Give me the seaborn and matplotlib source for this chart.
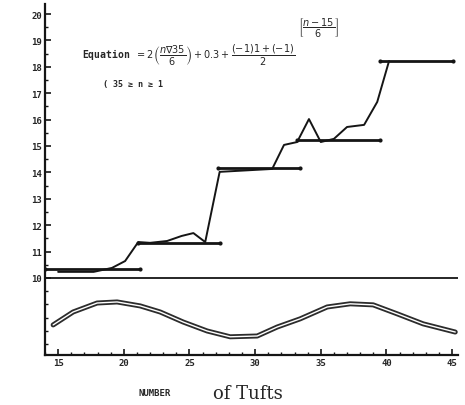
import matplotlib
matplotlib.use("Agg")
import matplotlib.pyplot as plt
import seaborn as sns
from matplotlib.ticker import MultipleLocator

sns.set_style("ticks")

# observed values (jagged line)
obs_x = [15.0, 17.7, 19.1, 20.1, 21.1, 22.0, 23.3, 24.4, 25.3, 26.2, 27.3,
         31.3, 32.2, 33.2, 34.1, 35.0, 36.0, 37.0, 38.3, 39.3, 40.2]
obs_y = [10.23, 10.23, 10.38, 10.64, 11.36, 11.33, 11.40, 11.59, 11.70, 11.36, 14.02,
         14.13, 15.04, 15.15, 16.02, 15.15, 15.27, 15.72, 15.80, 16.67, 18.22]

# fitted steps
step_start = [14.0, 21.1, 27.2, 33.2, 39.5]
step_end = [21.2, 27.3, 33.4, 39.5, 45.1]
step_level = [10.34, 11.32, 14.17, 15.22, 18.22]

# wave below the baseline
wave_x = [14.62, 16.14, 17.97, 19.49, 21.25, 22.77, 24.52, 26.35, 28.10, 30.16,
          31.68, 33.43, 35.49, 37.24, 38.99, 40.82, 42.80, 45.24]
wave_y = [8.22, 8.71, 9.05, 9.09, 8.94, 8.71, 8.33, 7.99, 7.77, 7.80,
          8.14, 8.45, 8.90, 9.02, 8.98, 8.64, 8.26, 7.95]

ink = "#151515"

fig = plt.figure(figsize=(4.65, 4.06), dpi=100)
ax = fig.add_axes([45 / 465, 1 - 356 / 406, 413 / 465, 351 / 406])

ax.axhline(10, color=ink, lw=1.3)

for x0, x1, lev in zip(step_start, step_end, step_level):
    sns.lineplot(x=[x0, x1], y=[lev, lev], ax=ax, color=ink, lw=2.0,
                 marker="o", markersize=3, markeredgewidth=0,
                 sort=False, estimator=None)

sns.lineplot(x=obs_x, y=obs_y, ax=ax, color=ink, lw=1.4, sort=False, estimator=None)

# double stroke wave
sns.lineplot(x=wave_x, y=wave_y, ax=ax, color="#2c2c2c", lw=3.6, sort=False, estimator=None)
sns.lineplot(x=wave_x, y=wave_y, ax=ax, color="white", lw=1.0, sort=False, estimator=None)

ax.set_xlim(14.0, 45.45)
ax.set_ylim(7.08, 20.38)
ax.set_xticks([15, 20, 25, 30, 35, 40, 45])
ax.set_yticks(list(range(10, 21)))
ax.xaxis.set_minor_locator(MultipleLocator(1))
ax.yaxis.set_minor_locator(MultipleLocator(0.5))
sns.despine(ax=ax)
for s in ["left", "bottom"]:
    ax.spines[s].set_linewidth(1.6)
    ax.spines[s].set_color(ink)
ax.tick_params(which="major", direction="in", length=4, width=1.2, color=ink, pad=2,
               labelsize=6.5)
ax.tick_params(which="minor", direction="in", length=2, width=1.0, color=ink)
for lab in ax.get_xticklabels() + ax.get_yticklabels():
    lab.set_fontfamily("DejaVu Sans Mono")
    lab.set_fontweight("bold")
ax.set_xlabel("")
ax.set_ylabel("")

ax.text(16.8, 18.48,
        r"Equation $= 2\left(\dfrac{n\nabla 35}{6}\right) + 0.3 + \dfrac{(-1)1 + (-1)}{2}$",
        fontsize=7, fontweight="bold", family="DejaVu Sans Mono", va="center")
ax.text(33.3, 19.5, r"$\left[\dfrac{n-15}{6}\right]$", fontsize=7, va="center")
ax.text(18.4, 17.35, "( 35 \u2265 n \u2265 1", fontsize=6, fontweight="bold",
        family="DejaVu Sans Mono", va="center")

fig.text(155 / 465, 1 - 394 / 406, "NUMBER", fontsize=6.5, fontweight="bold",
         family="DejaVu Sans Mono", ha="center", va="center")
fig.text(213 / 465, 1 - 394 / 406, "of Tufts", fontsize=13, family="DejaVu Serif",
         ha="left", va="center")

fig.savefig("out.png", dpi=100)
